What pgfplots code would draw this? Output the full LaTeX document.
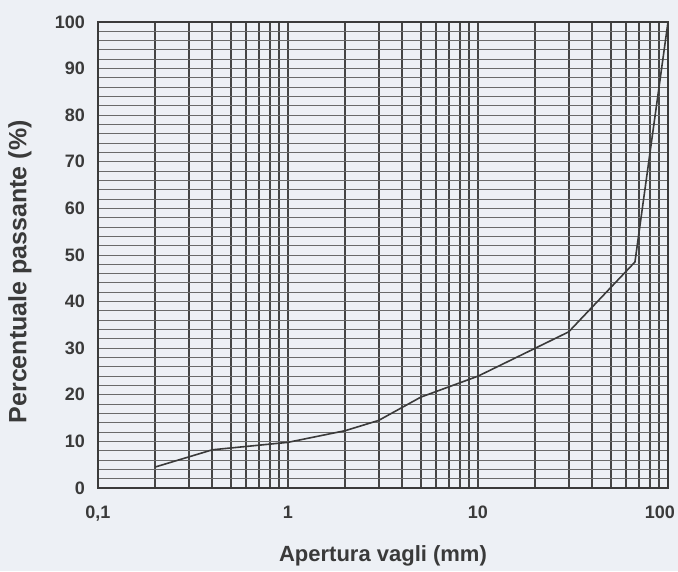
\documentclass[border=0pt]{standalone}
\usepackage{pgfplots}
\pgfplotsset{compat=1.18}
\usepackage{fontspec}
\setmainfont{Liberation Sans}
\definecolor{paper}{HTML}{EDF0F5}
\definecolor{ink}{HTML}{3A3A3A}
\definecolor{vgrid}{HTML}{454545}
\definecolor{hgrid}{HTML}{6A6A6A}
\begin{document}
\begin{tikzpicture}
\fill[paper] (-98pt,-83pt) rectangle (580pt,488pt);
\begin{axis}[
  at={(0,0)}, anchor=south west,
  width=570pt, height=466pt, scale only axis,
  xmode=log, log basis x=10,
  xmin=0.1, xmax=100, ymin=0, ymax=100,
  xtick={0.1,0.2,0.3,0.4,0.5,0.6,0.7,0.8,0.9,1,2,3,4,5,6,7,8,9,10,20,30,40,50,60,70,80,90,100},
  xticklabels={{0,1},,,,,,,,,1,,,,,,,,,10,,,,,,,,,\hspace*{-16pt}100},
  ytick={0,10,...,100},
  minor ytick={0,2,...,100},
  xmajorgrids=true, ymajorgrids=true, yminorgrids=true,
  x grid style={vgrid, line width=2pt},
  y grid style={hgrid, line width=1pt},
  minor y grid style={hgrid, line width=1pt},
  major tick length=0pt, minor tick length=0pt,
  axis line style={ink, line width=1.8pt},
  axis background/.style={fill=paper},
  /pgf/number format/assume math mode=true,
  tick label style={font=\fontsize{18}{20}\selectfont\bfseries, text=ink},
  yticklabel style={inner sep=0pt, anchor=east, xshift=-13pt},
  xticklabel style={inner sep=0pt, anchor=north, yshift=-18pt},
  xlabel={Apertura vagli (mm)},
  ylabel={Percentuale passante (\%)},
  label style={text=ink},
  xlabel style={font=\fontsize{22}{26}\selectfont\bfseries, at={(axis description cs:0.5,-0.146)}, anchor=center, inner sep=0pt},
  ylabel style={font=\fontsize{25}{28}\selectfont\bfseries, at={(axis description cs:-0.137,0.464)}, anchor=center, rotate=0, inner sep=0pt},
  clip=false,
]
\addplot[ink, line width=1.6pt, no marks] coordinates {
  (0.2,4.5) (0.4,8.2) (1,9.8) (2,12.3) (3,14.5) (5,19.5) (10,24) (30,33.5) (67,48.5) (100,100)
};
\end{axis}
\pgfresetboundingbox
\path[use as bounding box] (-98pt,-83pt) rectangle (580pt,488pt);
\end{tikzpicture}
\end{document}
